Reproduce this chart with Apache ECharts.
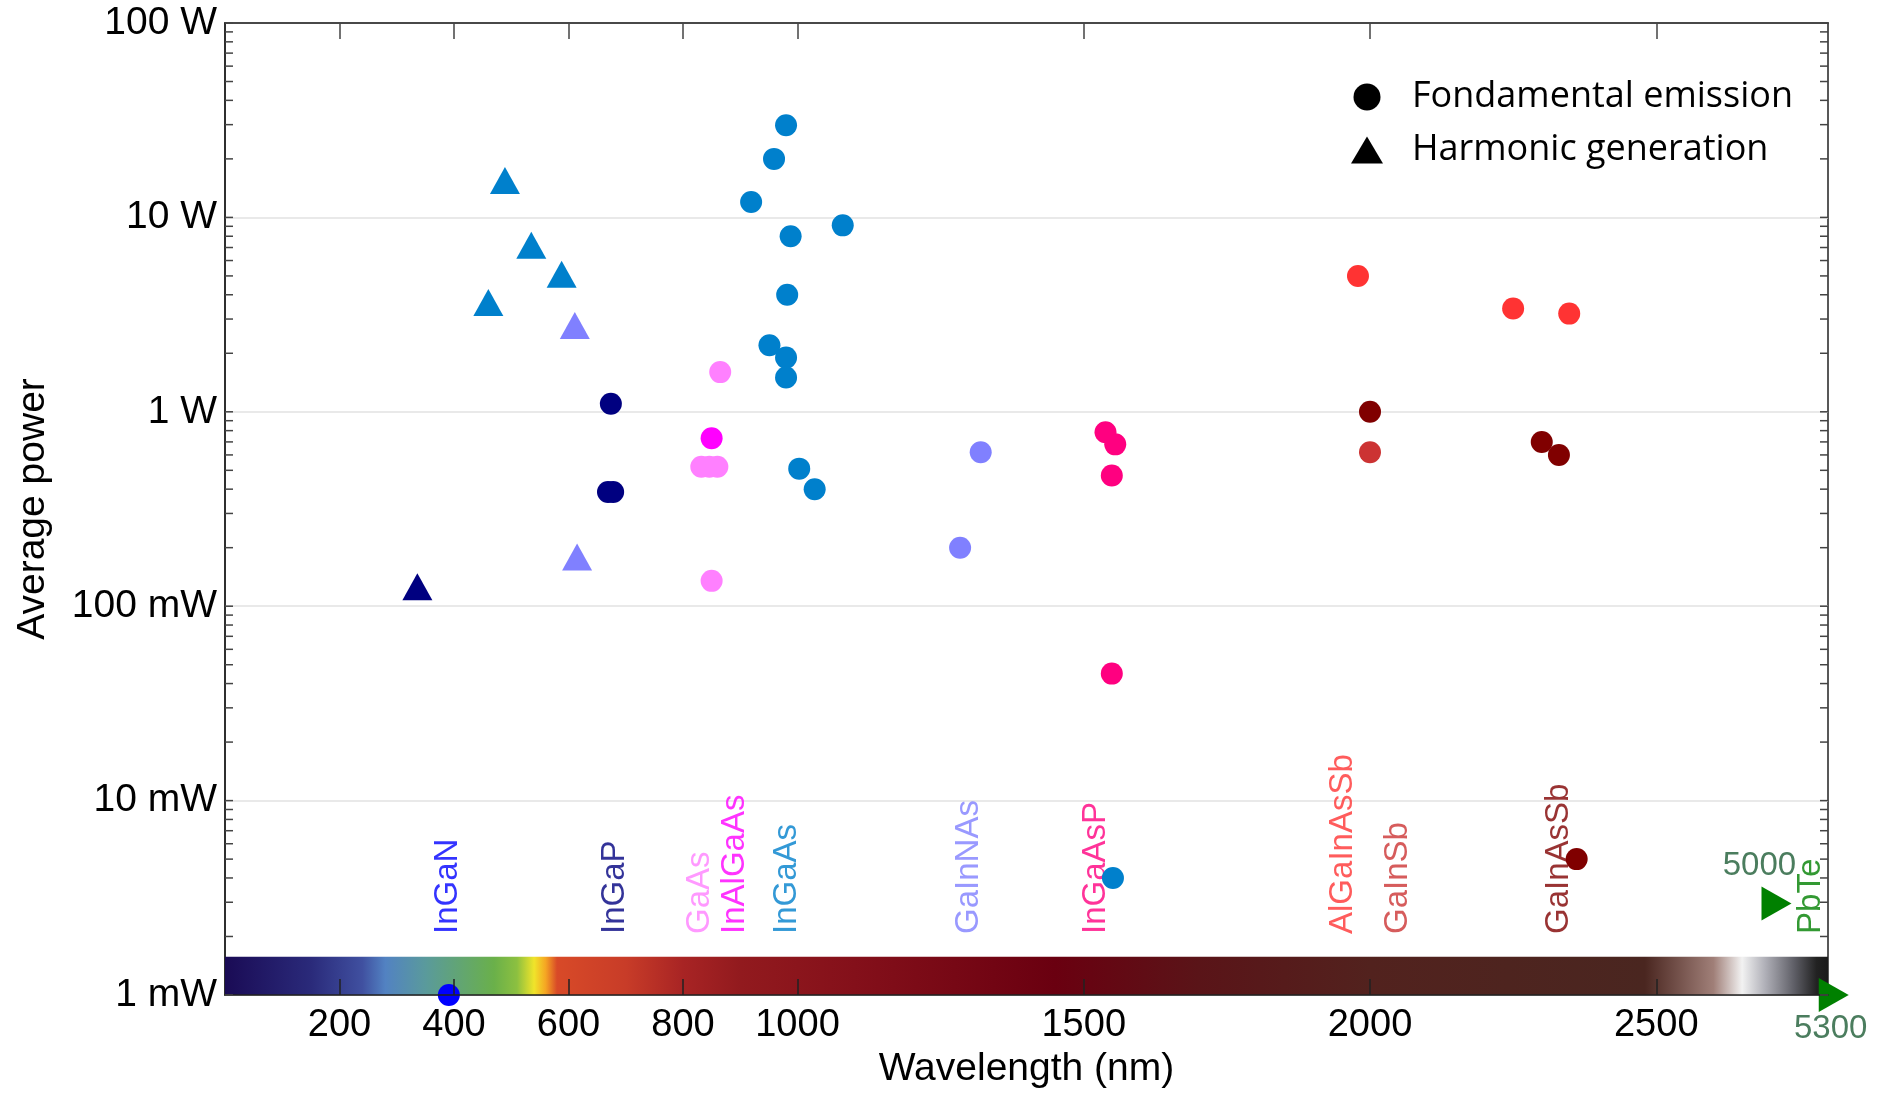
<!DOCTYPE html>
<html lang="en">
<head>
<meta charset="UTF-8">
<title>Average power vs wavelength</title>
<style>
    *{
        margin: 0;
        padding: 0;
    }
    body{background: #fff;}
</style>
</head>
<body>
<div id="main" style="width: 1882px;height: 1094px;"></div>
<script src="https://cdn.jsdelivr.net/npm/echarts@6/dist/echarts.min.js"></script>
<script type="text/javascript">
    // axis ticks
    var xTicks = [200, 400, 600, 800, 1000, 1500, 2000, 2500];
    var yLabels = ['1 mW', '10 mW', '100 mW', '1 W', '10 W', '100 W'];

    // fondamental emission, [wavelength nm, power W]
    var inganFund = [[391, 0.001]];
    var ingapFund = [[674, 1.1], [669, 0.387], [678, 0.387]];
    var gaasFund = [[865, 1.6], [832, 0.521], [846, 0.521], [860, 0.521], [850, 0.135]];
    var inalgaasFund = [[850, 0.731]];
    var ingaasFund = [[980, 29.8], [959, 20], [919, 12], [1079, 9.1], [988, 8.0], [982, 4.0],
        [951, 2.2], [980, 1.9], [980, 1.5], [1003, 0.51], [1030, 0.40], [1551, 0.004]];
    var gainnasFund = [[1320, 0.62], [1284, 0.2]];
    var ingaaspFund = [[1538, 0.785], [1555, 0.68], [1549, 0.47], [1549, 0.045]];
    var algainassbFund = [[1979, 5.0], [2250, 3.4], [2348, 3.2]];
    var gainsbFund = [[2000, 0.62]];
    var gainassbFund = [[2000, 1.0], [2300, 0.70], [2330, 0.60], [2361, 0.005]];

    // harmonic generation
    var ingaasHarm = [[489, 15.5], [535, 7.2], [588, 5.1], [460, 3.65]];
    var gainnasHarm = [[611, 2.78], [615, 0.179]];
    var ingapHarm = [[336, 0.126]];

    // PbTe, off scale (real wavelength in the label)
    var pbtePoints = [[2710, 0.00296], [2810, 0.001]];
    var pbteLabels = ['5000', '5300'];

    // material names written above the spectrum bar
    var materials = ['InGaN', 'InGaP', 'GaAs', 'InAlGaAs', 'InGaAs', 'GaInNAs', 'InGaAsP', 'AlGaInAsSb', 'GaInSb', 'GaInAsSb', 'PbTe'];
    var materialX = [389, 681, 830, 890, 981, 1300, 1522, 1952, 2049, 2330, 2771];
    var materialColors = ['#0000ff', '#000080', '#ff80ff', '#ff00ff', '#0080cc', '#8080ff', '#ff0080', '#ff3333', '#cc3333', '#800000', '#008000'];
    var materialBase = 0.00206;

    // spectrum bar
    var spectrumNm = [0, 150, 240, 280, 350, 470, 510, 540, 560, 580, 700, 800, 900, 1100, 1450, 1700, 2000, 2480, 2600, 2650, 2690, 2740, 2780, 2800];
    var spectrumColors = ['#1a0b55', '#2a2a7a', '#4050a0', '#5282c2', '#5a9a9c', '#6ab04a', '#8cc040', '#f0e42a', '#f5a623', '#d84a28',
        '#c83c28', '#a82424', '#921a1e', '#84101a', '#6a0010', '#5a1418', '#52221e', '#4a2620', '#a07f78', '#f2f2f2', '#b0b0b8', '#606068', '#222222', '#1a1a1a'];
    var spectrumTop = 0.001574;

    var xMax = 2800;
    var font = 'Liberation Sans';

    function pts(arr, color){
        return arr.map(function(p){
            return {value: p, itemStyle: {color: color}};
        });
    }

    var fundData = [].concat(
        pts(ingaasFund, '#0080cc'),
        pts(ingapFund, '#000080'),
        pts(gaasFund, '#ff80ff'),
        pts(inalgaasFund, '#ff00ff'),
        pts(gainnasFund, '#8080ff'),
        pts(ingaaspFund, '#ff0080'),
        pts(algainassbFund, '#ff3333'),
        pts(gainsbFund, '#cc3333'),
        pts(gainassbFund, '#800000'),
        pts(inganFund, '#0000ff')
    );
    var harmData = [].concat(
        pts(ingaasHarm, '#0080cc'),
        pts(gainnasHarm, '#8080ff'),
        pts(ingapHarm, '#000080')
    );

    // log minor ticks 1..9 per decade
    var minorTicks = [];
    [0.001, 0.01, 0.1, 1, 10].forEach(function(d){
        for(var k = 1; k < 10; k++){
            minorTicks.push([0, d * k]);
        }
    });
    minorTicks.push([0, 100]);

    var myChart = echarts.init(document.getElementById('main'));
    myChart.setOption({
        animation: false,
        grid: {
            left: 225,
            right: 54,
            top: 23,
            bottom: 99,
            show: true,
            borderColor: '#222',
            borderWidth: 1.5
        },
        legend: {
            orient: 'vertical',
            left: 1346,
            top: 74,
            itemWidth: 32,
            itemHeight: 27,
            itemGap: 17,
            selectedMode: false,
            data: [
                {name: 'Fondamental emission', icon: 'circle'},
                {name: 'Harmonic generation', icon: 'triangle'}
            ],
            textStyle: {
                fontFamily: 'Open Sans',
                fontSize: 36,
                color: '#000',
                padding: [0, 0, 0, 24]
            }
        },
        xAxis: [
            {
                type: 'value',
                position: 'bottom',
                min: 0,
                max: xMax,
                z: 10,
                name: 'Wavelength (nm)',
                nameLocation: 'middle',
                nameGap: 54,
                nameTextStyle: {fontFamily: font, fontSize: 39, color: '#000'},
                axisLine: {lineStyle: {color: '#222', width: 1.5}},
                axisTick: {inside: true, length: 16, customValues: xTicks, lineStyle: {color: '#222', width: 1.5}},
                axisLabel: {
                    customValues: xTicks,
                    fontFamily: font,
                    fontSize: 38,
                    color: '#000',
                    margin: 12,
                    formatter: function(v){ return String(v); }
                },
                splitLine: {show: false}
            },
            {
                type: 'value',
                position: 'top',
                min: 0,
                max: xMax,
                z: 10,
                axisLine: {lineStyle: {color: '#222', width: 1.5}},
                axisTick: {inside: true, length: 16, customValues: xTicks, lineStyle: {color: '#444', width: 1.5}},
                axisLabel: {show: false},
                splitLine: {show: false}
            }
        ],
        yAxis: {
            type: 'log',
            logBase: 10,
            min: 0.001,
            max: 100,
            splitNumber: 5,
            name: 'Average power',
            nameLocation: 'middle',
            nameGap: 172,
            nameTextStyle: {fontFamily: font, fontSize: 39, color: '#000'},
            axisLine: {lineStyle: {color: '#222', width: 1.5}},
            axisTick: {show: false},
            axisLabel: {
                fontFamily: font,
                fontSize: 39,
                color: '#000',
                margin: 8,
                showMinLabel: true,
                showMaxLabel: true,
                formatter: function(v){
                    var i = Math.round(Math.log10(v)) + 3;
                    return yLabels[i] || '';
                }
            },
            splitLine: {lineStyle: {color: '#e2e2e2', width: 1.5}}
        },
        series: [
            {
                name: 'spectrum',
                type: 'scatter',
                data: [],
                silent: true,
                z: 1,
                markArea: {
                    silent: true,
                    itemStyle: {
                        opacity: 1,
                        color: {
                            type: 'linear', x: 0, y: 0, x2: 1, y2: 0,
                            colorStops: spectrumNm.map(function(n, i){
                                return {offset: n / xMax, color: spectrumColors[i]};
                            })
                        }
                    },
                    data: [[{coord: [0, 0.001]}, {coord: [xMax, spectrumTop]}]]
                }
            },
            {
                name: 'ticks',
                type: 'custom',
                silent: true,
                z: 20,
                clip: false,
                data: minorTicks,
                renderItem: function(params, api){
                    var cs = params.coordSys;
                    var y = api.coord([0, api.value(1)])[1];
                    var st = {stroke: '#444', lineWidth: 1.5};
                    return {
                        type: 'group',
                        children: [
                            {type: 'line', shape: {x1: cs.x, y1: y, x2: cs.x + 8, y2: y}, style: st},
                            {type: 'line', shape: {x1: cs.x + cs.width - 8, y1: y, x2: cs.x + cs.width, y2: y}, style: st}
                        ]
                    };
                }
            },
            {
                name: 'materials',
                type: 'scatter',
                silent: true,
                z: 2,
                symbolSize: 1,
                itemStyle: {color: 'rgba(0,0,0,0)'},
                data: materials.map(function(m, i){
                    return {name: m, value: [materialX[i], materialBase], label: {color: materialColors[i]}};
                }),
                label: {
                    show: true,
                    formatter: '{b}',
                    position: 'inside',
                    rotate: 90,
                    align: 'left',
                    verticalAlign: 'middle',
                    fontFamily: font,
                    fontSize: 33
                }
            },
            {
                name: 'Fondamental emission',
                type: 'scatter',
                symbol: 'circle',
                symbolSize: 22,
                clip: false,
                z: 3,
                itemStyle: {color: '#000', opacity: 1},
                data: fundData
            },
            {
                name: 'Harmonic generation',
                type: 'scatter',
                symbol: 'triangle',
                symbolSize: [30, 27],
                clip: false,
                z: 3,
                itemStyle: {color: '#000', opacity: 1},
                data: harmData
            },
            {
                name: 'PbTe',
                type: 'scatter',
                symbol: 'path://M0,0L10,5L0,10Z',
                symbolSize: [30, 34],
                clip: false,
                z: 5,
                itemStyle: {color: '#008000', opacity: 1},
                data: pbtePoints.map(function(p, i){
                    return {
                        value: p,
                        label: {formatter: pbteLabels[i], offset: i === 0 ? [-17, -37] : [-3, 34]}
                    };
                }),
                label: {
                    show: true,
                    position: 'inside',
                    color: '#4b7d5e',
                    fontFamily: font,
                    fontSize: 33
                }
            }
        ]
    });
</script>
</body>
</html>
